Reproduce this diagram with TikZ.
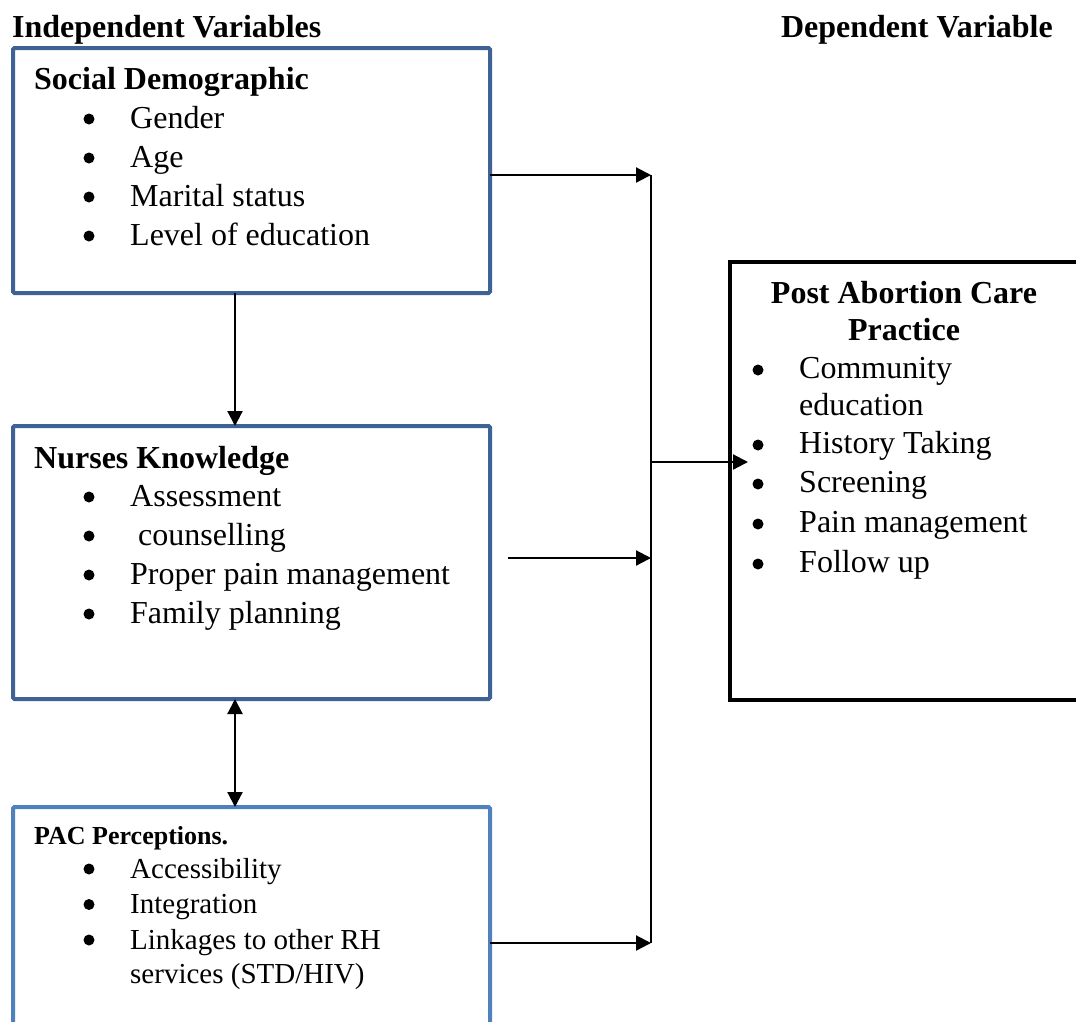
\documentclass[tikz,border=0pt]{standalone}
\usepackage{fontspec}
\setmainfont{Liberation Serif}
\usetikzlibrary{arrows.meta,positioning}
\definecolor{darkblue}{HTML}{3E6294}
\definecolor{lightblue}{HTML}{4F81BD}
\tikzset{
  varbox/.style={draw=darkblue, line width=4pt, rounded corners=1.5pt, anchor=north west, inner sep=0pt, outer sep=0pt},
  pacbox/.style={varbox, draw=lightblue},
  depbox/.style={draw=black, line width=4pt, anchor=north west, inner sep=0pt, outer sep=0pt},
  heading/.style={anchor=base west, inner sep=0pt, font=\bfseries\fontsize{32}{38}\selectfont},
  entry/.style={anchor=base west, inner sep=0pt, font=\fontsize{32}{39}\selectfont},
  bulletdot/.style={circle, fill=black, inner sep=0pt, minimum size=11pt},
  tip/.tip={Triangle[length=15pt,width=15pt]},
  conn/.style={line width=2.2pt, -tip},
}
\begin{document}
\begin{tikzpicture}[x=1pt,y=-1pt]
\clip (0,0) rectangle (1076,1021);

% column titles
\node[heading] (indep) at (12,37) {Independent Variables};
\node[heading, anchor=base east] (dep) at (1053,37) {Dependent Variable};

% independent variable boxes
\node[varbox, minimum width=477pt, minimum height=245pt] (social) at (13,48) {};
\node[varbox, minimum width=477pt, minimum height=273pt] (nurses) at (13,426) {};
\node[pacbox, minimum width=477pt, minimum height=260pt] (pac) at (13,807) {};

% dependent variable box
\node[depbox, minimum width=380pt, minimum height=438pt] (practice) at (730,262) {};

% social demographic
\node[heading] (sdhead) at (34,89) {Social Demographic};
\foreach \txt [count=\i] in {Gender, Age, Marital status, Level of education}{
  \node[bulletdot] at (89,{119+39*(\i-1)}) {};
  \node[entry] (sd-\i) at (130,{128+39*(\i-1)}) {\txt};
}

% nurses knowledge
\node[heading] (nkhead) at (34,468) {Nurses Knowledge};
\foreach \txt/\xx [count=\i] in {Assessment/130, counselling/138, Proper pain management/130, Family planning/130}{
  \node[bulletdot] at (89,{497+39*(\i-1)}) {};
  \node[entry] (nk-\i) at (\xx,{506+39*(\i-1)}) {\txt};
}

% pac perceptions
\node[heading, font=\bfseries\fontsize{26}{31}\selectfont] (pchead) at (34,844) {PAC Perceptions.};
\foreach \txt [count=\i] in {Accessibility, Integration, Linkages to other RH}{
  \node[bulletdot] at (89,{869+35.5*(\i-1)}) {};
  \node[entry, font=\fontsize{29}{35}\selectfont] (pc-\i) at (130,{878+35.5*(\i-1)}) {\txt};
}
\node[entry, font=\fontsize{29}{35}\selectfont] (pc-4) at (130,983) {services (STD/HIV)};

% post abortion care practice
\node[heading, anchor=base] (pachead1) at (904,303) {Post Abortion Care};
\node[heading, anchor=base] (pachead2) at (904,340) {Practice};
\foreach \txt/\yy in {Community/378, education/415, History Taking/453, Screening/492, Pain management/532, Follow up/572}{
  \node[entry] at (799,\yy) {\txt};
}
\foreach \yy in {378, 453, 492, 532, 572}
  \node[bulletdot] at (758,\yy-8) {};

% connectors
\coordinate (axis) at (235,0);
\coordinate (busTop) at (651,175);
\coordinate (busMid) at (651,462);
\coordinate (busBot) at (651,943);
\coordinate (nkStart) at (508,558);
\coordinate (pracTip) at (748,462);

\draw[conn] (social.south -| axis) -- (nurses.north -| axis);
\draw[conn, tip-tip] (nurses.south -| axis) -- (pac.north -| axis);
\draw[line width=1.5pt] (busTop) -- (busBot);
\draw[conn] (social.east |- busTop) -- (busTop);
\draw[conn] (nkStart) -- (nkStart -| busTop);
\draw[conn] (pac.east |- busBot) -- (busBot);
\draw[conn] (busMid) -- (pracTip);
\end{tikzpicture}
\end{document}
